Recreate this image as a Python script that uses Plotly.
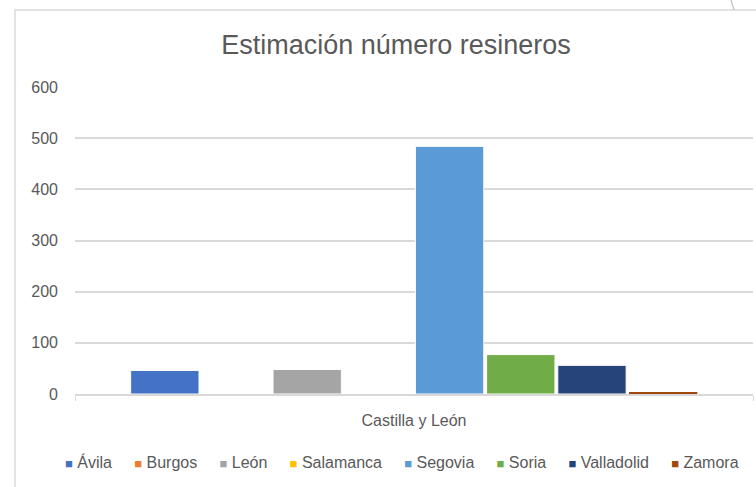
import plotly.graph_objects as go

# === Data ===
region = ["Castilla y León"]
provinces = ["Ávila", "Burgos", "León", "Salamanca", "Segovia", "Soria", "Valladolid", "Zamora"]
resineros = [46, 0, 48, 0, 484, 77, 56, 4]
colors = ["#4472C4", "#ED7D31", "#A5A5A5", "#FFC000", "#5B9BD5", "#70AD47", "#264478", "#9E480E"]
y_ticks = [0, 100, 200, 300, 400, 500, 600]

W, H = 756, 487
L, R, T, B = 75, 3, 87, 93
grey_txt = "#595959"
grid = "#D9D9D9"
font = "Liberation Sans, Arial, sans-serif"

fig = go.Figure()

for name, val, col in zip(provinces, resineros, colors):
    fig.add_trace(go.Bar(
        x=region,
        y=[val],
        name=name,
        marker=dict(color=col, line=dict(color="white", width=1 if val > 10 else 0)),
        showlegend=False,
    ))

# legend drawn as one line of text (Excel style small squares)
nb = "\u00a0"
legend_txt = (nb * 5).join(
    f'<span style="color:{c};font-size:13px">■</span>{nb}{p}'
    for p, c in zip(provinces, colors)
)

# helpers to go from pixels to paper coords
pw, ph = W - L - R, H - T - B
def px(x):
    return (x - L) / pw
def py(y):
    return (H - B - y) / ph

fig.add_annotation(
    text=legend_txt, x=px(402), y=py(462), xref="paper", yref="paper",
    xanchor="center", yanchor="middle", showarrow=False,
    font=dict(size=16, color=grey_txt, family=font),
)

# chart frame
fig.add_shape(type="rect", xref="paper", yref="paper",
              x0=px(15), x1=px(W + 20), y0=py(H + 20), y1=py(10),
              line=dict(color=grid, width=1.5), layer="below")
fig.add_shape(type="line", xref="paper", yref="paper",
              x0=px(731), x1=px(734), y0=py(0), y1=py(10),
              line=dict(color="#BFBFBF", width=1.2))

fig.update_layout(
    width=W, height=H,
    margin=dict(l=L, r=R, t=T, b=B),
    title=dict(text="Estimación número resineros", x=396 / W, xanchor="center",
               y=1 - 45 / H, yanchor="middle", yref="container",
               font=dict(size=27, color=grey_txt, family=font)),
    paper_bgcolor="white",
    plot_bgcolor="white",
    barmode="group",
    bargap=0.16,
    bargroupgap=0.04,
    font=dict(family=font, color=grey_txt, size=16),
    xaxis=dict(showline=True, linecolor=grid, linewidth=1.5,
               ticks="outside", tickson="boundaries", ticklen=5, tickcolor=grid,
               tickfont=dict(size=16, color=grey_txt), showgrid=False,
               ticklabelstandoff=11),
    yaxis=dict(range=[0, 600], tickvals=y_ticks, showgrid=True, gridcolor=grid,
               gridwidth=1.5, zeroline=False, ticks="",
               tickfont=dict(size=16, color=grey_txt), ticklabelstandoff=16),
)

# drop the default page margin so the chart sits at the window's corner
fig.write_html("out.html", config={"displayModeBar": False},
               post_script="document.body.style.margin='0';")
